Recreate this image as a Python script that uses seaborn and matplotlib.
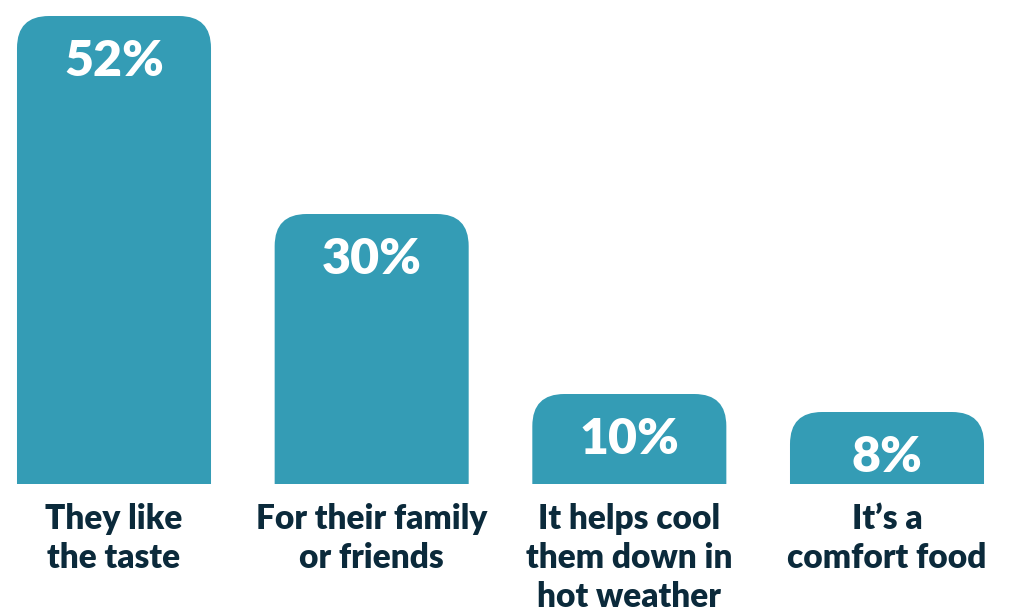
import matplotlib
matplotlib.use("Agg")
import matplotlib.pyplot as plt
from matplotlib.patches import FancyBboxPatch
import seaborn as sns
import pandas as pd

categories = [
    "They like\nthe taste",
    "For their family\nor friends",
    "It helps cool\nthem down in\nhot weather",
    "It\u2019s a\ncomfort food",
]
shares = [52, 30, 10, 8]
value_labels = ["52%", "30%", "10%", "8%"]

BAR_COLOR = "#349cb5"
TEXT_COLOR = "#0b2a3b"

sns.set_theme(style="white")
plt.rcParams["font.family"] = ["Lato", "DejaVu Sans"]

W, H, DPI = 1019, 616, 100
fig = plt.figure(figsize=(W / DPI, H / DPI), dpi=DPI)
bottom_frac = (H - 484) / H
top_frac = (H - 16) / H
ax = fig.add_axes([0, bottom_frac, 1, top_frac - bottom_frac])

df = pd.DataFrame({"reason": categories, "share": shares})
sns.barplot(data=df, x="reason", y="share", color=BAR_COLOR, width=0.753,
            saturation=1, ax=ax)

step_px = 257.67
ax.set_xlim(-114 / step_px, 3 + (W - 887) / step_px)
ax.set_ylim(0, max(shares))

# swap the plain bars for ones with rounded top corners
px_x = 1 / step_px
px_y = max(shares) / (484 - 16)
radius_px = 32
aspect = px_y / px_x
for patch in list(ax.patches):
    x0 = patch.get_x()
    w = patch.get_width()
    h = patch.get_height()
    extra = radius_px * px_y
    rounded = FancyBboxPatch(
        (x0, -extra), w, h + extra,
        boxstyle=f"round,pad=0,rounding_size={radius_px * px_x}",
        mutation_aspect=aspect,
        facecolor=BAR_COLOR, edgecolor="none", linewidth=0, clip_on=True,
    )
    patch.remove()
    ax.add_patch(rounded)

for i, (v, lab) in enumerate(zip(shares, value_labels)):
    ax.annotate(lab, xy=(i, v), xytext=(0, -46 * 72 / DPI),
                textcoords="offset points", ha="center", va="center",
                color="white", fontsize=36, fontweight="heavy")

ax.set_xlabel("")
ax.set_ylabel("")
ax.set_yticks([])
ax.set_xticks(range(len(categories)))
ax.set_xticklabels(categories, fontsize=24, fontweight="heavy", color=TEXT_COLOR,
                   linespacing=1.27, va="top")
ax.tick_params(axis="x", length=0, pad=14)
for s in ax.spines.values():
    s.set_visible(False)

fig.savefig("out.png", dpi=DPI, facecolor="white")
